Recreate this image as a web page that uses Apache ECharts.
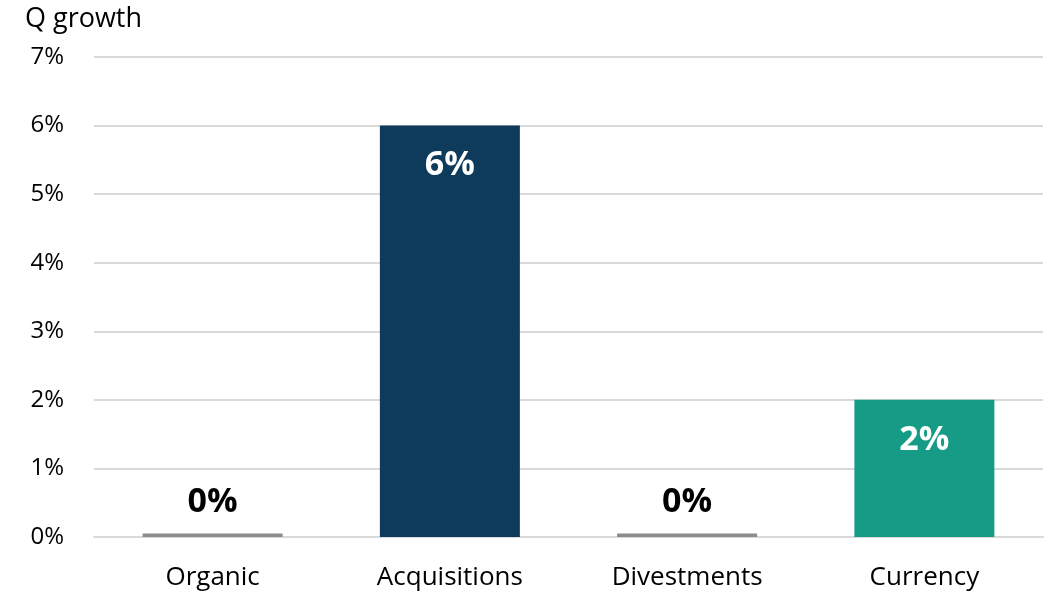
<!DOCTYPE html>
<html>
<head>
<meta charset="utf-8">
<script src="https://cdn.jsdelivr.net/npm/echarts@6/dist/echarts.min.js"></script>
<style>
  html, body { margin: 0; padding: 0; background: #fff; }
  #chart { width: 1051px; height: 598px; }
</style>
</head>
<body>
<div id="chart"></div>
<script>
// 数据
const categories = ['Organic', 'Acquisitions', 'Divestments', 'Currency']
const values = [0.05, 6, 0.05, 2]
const valueLabels = ['0%', '6%', '0%', '2%']
const barColors = ['#8c8c8c', '#0e3a5c', '#8c8c8c', '#169c86']
const yTicks = [0, 1, 2, 3, 4, 5, 6, 7]

const FONT = '"Open Sans", "Liberation Sans", sans-serif'

const chart = echarts.init(document.getElementById('chart'))

const option = {
  animation: false,
  title: {
    text: 'Q growth',
    left: 20,
    top: 1,
    textStyle: { fontFamily: FONT, fontSize: 27, fontWeight: 'normal', color: '#000' }
  },
  grid: { left: 94, right: 8, top: 57, bottom: 61, containLabel: false },
  xAxis: {
    type: 'category',
    data: categories,
    axisLine: { lineStyle: { color: '#d9d9d9', width: 2 } },
    axisTick: { show: false },
    axisLabel: { fontFamily: FONT, fontSize: 26, color: '#000', margin: 28 }
  },
  yAxis: {
    type: 'value',
    min: yTicks[0],
    max: yTicks[yTicks.length - 1],
    interval: 1,
    axisLine: { show: false },
    axisTick: { show: false },
    splitLine: { lineStyle: { color: '#d9d9d9', width: 2 } },
    axisLabel: {
      fontFamily: FONT, fontSize: 24, color: '#000', margin: 30,
      formatter: v => v + '%'
    }
  },
  series: [{
    type: 'bar',
    barWidth: 140,
    data: values.map((v, i) => {
      const small = v < 0.5
      return {
        value: v,
        itemStyle: { color: barColors[i] },
        label: {
          show: true,
          position: small ? 'top' : 'insideTop',
          distance: small ? 14 : 23,
          formatter: valueLabels[i],
          fontFamily: FONT,
          fontSize: 34,
          fontWeight: 'bold',
          color: small ? '#000' : '#fff'
        }
      }
    })
  }]
}

chart.setOption(option)
</script>
</body>
</html>
